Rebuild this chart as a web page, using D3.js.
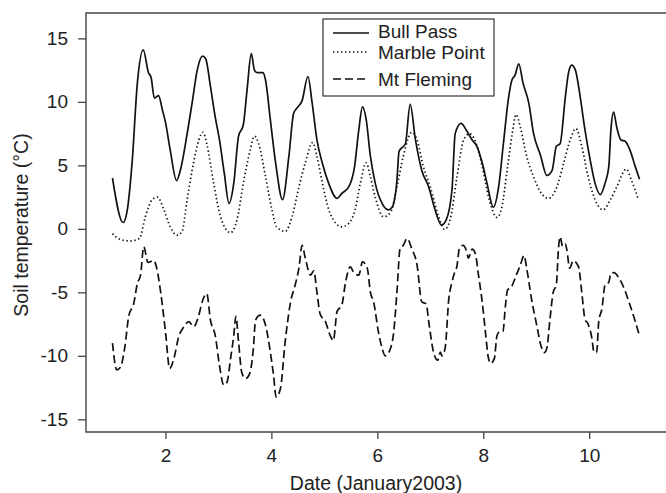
<!DOCTYPE html>
<html>
<head>
<meta charset="utf-8">
<script src="https://cdn.jsdelivr.net/npm/d3@7"></script>
<style>
  body{margin:0;background:#fff;}
  text{font-family:"Liberation Sans",Arial,sans-serif;fill:#222;}
</style>
</head>
<body>
<div id="chart"></div>
<script>
// [day of January 2003, soil temperature °C]
const bullPass=[[1.0,4.0],[1.2,0.5],[1.28,1.5],[1.37,5.2],[1.47,11.5],[1.58,14.1],[1.68,12.3],[1.73,11.9],[1.79,10.3],[1.87,10.5],[1.94,9.4],[2.0,8.4],[2.09,6.2],[2.21,3.8],[2.28,4.6],[2.41,7.5],[2.51,10.1],[2.6,12.5],[2.7,13.6],[2.76,13.4],[2.85,11.2],[2.94,8.8],[3.02,7.0],[3.11,4.4],[3.2,2.0],[3.29,3.6],[3.38,7.3],[3.47,8.2],[3.54,10.9],[3.62,13.8],[3.68,12.5],[3.73,12.3],[3.84,12.3],[3.89,11.7],[3.98,8.6],[4.08,5.2],[4.21,2.3],[4.33,5.7],[4.42,9.1],[4.48,9.5],[4.58,10.1],[4.69,12.0],[4.77,9.9],[4.86,7.0],[4.96,5.2],[5.08,3.6],[5.24,2.4],[5.33,2.8],[5.46,3.3],[5.57,4.9],[5.65,7.8],[5.72,9.6],[5.79,8.6],[5.87,5.7],[5.96,3.6],[6.09,2.0],[6.21,1.5],[6.28,1.7],[6.37,3.8],[6.41,6.1],[6.53,6.7],[6.62,9.8],[6.72,7.0],[6.84,4.6],[6.97,3.3],[7.09,1.5],[7.21,0.3],[7.3,0.7],[7.41,3.1],[7.47,7.5],[7.58,8.3],[7.69,7.7],[7.79,7.0],[7.88,6.5],[7.98,5.2],[8.07,3.6],[8.19,1.7],[8.29,3.3],[8.38,6.7],[8.48,10.4],[8.54,11.7],[8.6,12.1],[8.67,13.0],[8.75,11.5],[8.86,9.9],[8.95,7.5],[9.08,5.8],[9.2,4.2],[9.3,4.6],[9.38,6.5],[9.45,6.7],[9.55,10.4],[9.61,12.3],[9.67,12.9],[9.74,12.5],[9.83,10.4],[9.92,7.8],[10.02,5.4],[10.11,3.6],[10.21,2.7],[10.3,3.6],[10.37,4.9],[10.41,7.8],[10.46,9.2],[10.52,8.0],[10.6,7.0],[10.68,6.9],[10.77,6.2],[10.87,4.9],[10.95,3.9]];
const marblePoint=[[1.0,-0.37],[1.15,-0.84],[1.34,-0.95],[1.51,-0.76],[1.62,0.95],[1.75,2.3],[1.85,2.5],[1.97,1.5],[2.09,0.16],[2.22,-0.5],[2.31,-0.24],[2.41,2.3],[2.53,5.2],[2.63,7.0],[2.71,7.6],[2.78,6.7],[2.91,3.6],[3.04,0.95],[3.23,-0.3],[3.35,0.7],[3.48,3.8],[3.6,6.2],[3.68,7.3],[3.76,6.7],[3.89,4.1],[4.01,1.5],[4.1,0.16],[4.26,-0.2],[4.39,0.95],[4.52,3.3],[4.64,5.2],[4.78,6.8],[4.86,5.7],[4.99,3.05],[5.11,1.2],[5.33,0.16],[5.46,0.43],[5.58,1.5],[5.68,3.6],[5.79,5.2],[5.87,4.1],[5.96,2.5],[6.12,0.95],[6.25,1.3],[6.37,3.3],[6.49,5.7],[6.65,7.6],[6.75,7.0],[6.87,4.9],[7.0,3.3],[7.16,0.95],[7.27,-0.05],[7.38,0.8],[7.5,4.0],[7.63,7.0],[7.74,7.5],[7.85,6.9],[7.98,4.9],[8.1,2.5],[8.26,0.9],[8.35,1.7],[8.45,4.6],[8.54,7.3],[8.62,9.0],[8.7,8.0],[8.82,5.7],[8.95,4.1],[9.08,2.9],[9.23,2.4],[9.39,3.3],[9.52,5.2],[9.64,7.0],[9.75,7.9],[9.86,6.5],[9.98,4.1],[10.11,2.3],[10.26,1.5],[10.4,2.3],[10.52,3.3],[10.7,4.7],[10.8,3.8],[10.93,2.3]];
const mtFleming=[[1.0,-9.0],[1.08,-11.1],[1.15,-10.9],[1.23,-9.4],[1.31,-6.8],[1.4,-5.9],[1.47,-4.3],[1.53,-3.65],[1.59,-1.4],[1.67,-2.65],[1.78,-2.5],[1.83,-3.0],[1.91,-5.0],[2.0,-8.1],[2.08,-11.0],[2.16,-10.2],[2.25,-8.5],[2.35,-7.7],[2.44,-7.3],[2.53,-7.7],[2.63,-6.8],[2.69,-5.8],[2.78,-5.1],[2.85,-7.2],[2.94,-8.4],[3.02,-10.75],[3.1,-12.3],[3.16,-12.1],[3.23,-10.2],[3.29,-8.4],[3.33,-6.9],[3.38,-8.9],[3.44,-11.3],[3.51,-11.8],[3.59,-11.4],[3.66,-9.4],[3.7,-7.2],[3.79,-6.8],[3.89,-7.6],[3.98,-9.7],[4.04,-11.5],[4.09,-13.25],[4.17,-12.6],[4.26,-8.9],[4.36,-5.8],[4.45,-4.4],[4.52,-3.1],[4.58,-1.3],[4.64,-2.3],[4.74,-3.65],[4.8,-3.3],[4.86,-5.0],[4.92,-6.7],[5.02,-7.3],[5.11,-8.4],[5.17,-8.8],[5.24,-6.5],[5.33,-6.0],[5.4,-4.2],[5.49,-3.0],[5.55,-3.4],[5.65,-3.65],[5.72,-2.6],[5.81,-3.1],[5.87,-5.0],[5.93,-5.75],[6.02,-8.1],[6.09,-9.4],[6.15,-10.0],[6.25,-9.4],[6.31,-8.1],[6.37,-5.0],[6.43,-1.55],[6.49,-1.3],[6.56,-0.76],[6.65,-1.55],[6.75,-2.85],[6.84,-5.75],[6.92,-5.9],[6.98,-7.6],[7.06,-9.7],[7.14,-10.35],[7.19,-9.7],[7.22,-10.0],[7.28,-9.4],[7.35,-5.5],[7.41,-4.2],[7.47,-3.3],[7.5,-3.0],[7.55,-1.55],[7.62,-1.3],[7.68,-1.7],[7.72,-2.3],[7.79,-1.6],[7.85,-1.95],[7.91,-3.65],[7.98,-5.75],[8.04,-8.1],[8.09,-10.0],[8.14,-10.6],[8.21,-10.2],[8.26,-8.4],[8.31,-8.1],[8.37,-8.1],[8.42,-6.0],[8.46,-4.8],[8.52,-4.65],[8.6,-3.9],[8.7,-2.85],[8.77,-2.1],[8.82,-3.1],[8.91,-5.5],[9.01,-7.6],[9.09,-9.2],[9.15,-9.75],[9.2,-9.4],[9.26,-7.1],[9.32,-5.0],[9.38,-4.4],[9.42,-1.55],[9.45,-0.63],[9.5,-1.4],[9.55,-1.2],[9.58,-1.7],[9.63,-3.1],[9.7,-2.5],[9.8,-3.0],[9.86,-5.0],[9.92,-7.1],[9.98,-7.5],[10.05,-8.6],[10.09,-9.7],[10.14,-9.75],[10.18,-7.3],[10.24,-6.3],[10.3,-4.4],[10.37,-4.2],[10.41,-3.5],[10.47,-3.45],[10.55,-3.8],[10.65,-4.6],[10.77,-6.0],[10.87,-7.3],[10.95,-8.45]];

const seriesNames=["Bull Pass","Marble Point","Mt Fleming"];
const xTicks=[2,4,6,8,10];
const yTicks=[-15,-10,-5,0,5,10,15];

const w=666, h=493;
const padL=86, padR=666, padT=13, padB=432;
const dashes=["none","1.4,2.6","8,4"];

const svg=d3.select("#chart").append("svg").attr("width",w).attr("height",h);

const xScale=d3.scaleLinear().domain([0.5,11.45]).range([padL,padR]);
const yScale=d3.scaleLinear().domain([-16,17]).range([padB,padT]);

const line=d3.line().x(d=>xScale(d[0])).y(d=>yScale(d[1])).curve(d3.curveMonotoneX);

const plot=svg.append("g");
[bullPass,marblePoint,mtFleming].forEach((s,i)=>{
  plot.append("path")
     .datum(s)
     .attr("d",line)
     .attr("fill","none")
     .attr("stroke","#111")
     .attr("stroke-width",1.7)
     .attr("stroke-dasharray",dashes[i]);
});

// frame: left, top, bottom (the right side runs off the picture)
svg.append("path")
   .attr("d",`M${padR},${padT}H${padL}V${padB}H${padR}`)
   .attr("fill","none").attr("stroke","#444").attr("stroke-width",1.4);

const xAxis=d3.axisBottom(xScale).tickValues(xTicks).tickSize(7).tickPadding(10).tickFormat(d=>String(d));
const gx=svg.append("g").attr("transform",`translate(0,${padB})`).call(xAxis);
gx.select(".domain").remove();

const yAxis=d3.axisLeft(yScale).tickValues(yTicks).tickSize(8).tickPadding(10).tickFormat(d=>String(d));
const gy=svg.append("g").attr("transform",`translate(${padL},0)`).call(yAxis);
gy.select(".domain").remove();

[gx,gy].forEach(g=>{
  g.selectAll(".tick line").attr("stroke","#444").attr("stroke-width",1.3);
  g.selectAll(".tick text").style("font-size","19px").attr("fill","#222");
});

svg.append("text")
   .text("Date (January2003)")
   .attr("x",(padL+padR)/2)
   .attr("y",490)
   .attr("text-anchor","middle")
   .style("font-size","19.5px");

svg.append("text")
   .text("Soil temperature (°C)")
   .attr("transform","rotate(-90)")
   .attr("x",-225)
   .attr("y",28)
   .attr("text-anchor","middle")
   .style("font-size","19.5px");

// legend
const legend=svg.append("g");
legend.append("rect")
   .attr("x",323).attr("y",19).attr("width",171).attr("height",77)
   .attr("fill","#fff").attr("stroke","#333").attr("stroke-width",1.2);
const legendY=[33,52,79];
const legendBase=[37.5,59,85.5];
seriesNames.forEach((name,i)=>{
  legend.append("line")
     .attr("x1",333).attr("x2",369)
     .attr("y1",legendY[i]).attr("y2",legendY[i])
     .attr("stroke","#111").attr("stroke-width",1.5)
     .attr("stroke-dasharray",dashes[i]);
  legend.append("text")
     .text(name)
     .attr("x",378)
     .attr("y",legendBase[i])
     .style("font-size","19px");
});
</script>
</body>
</html>
